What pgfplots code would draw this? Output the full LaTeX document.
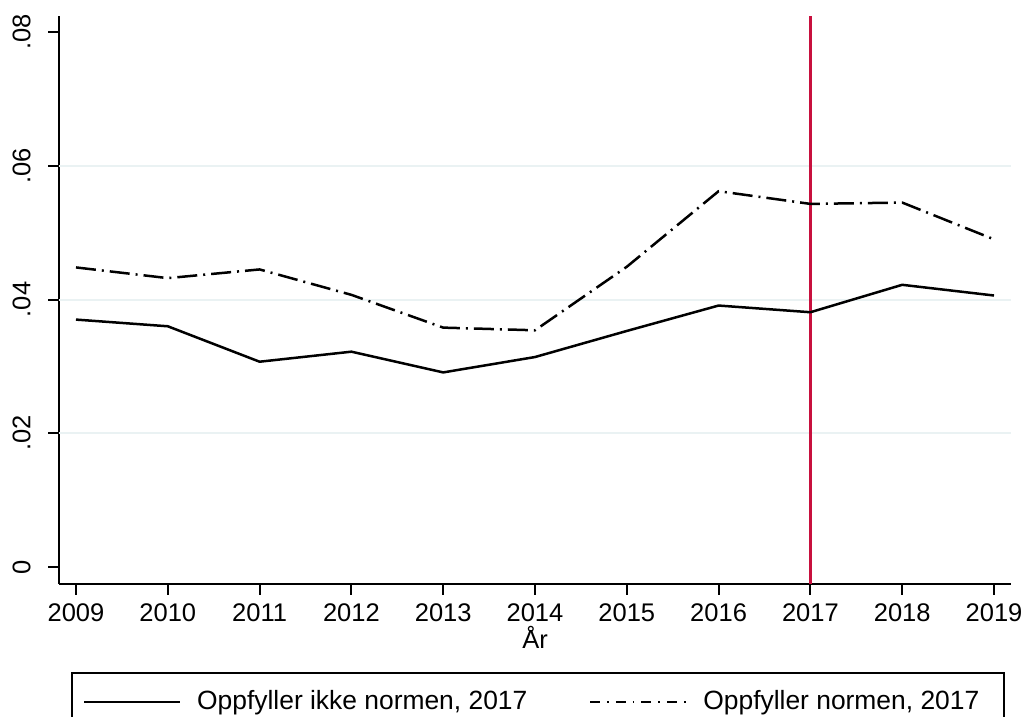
\documentclass[border=0pt]{standalone}
\usepackage{pgfplots}
\pgfplotsset{compat=1.18}
\usepackage{fontspec}
\setmainfont{Liberation Sans}
\definecolor{gridc}{RGB}{234,242,243}
\definecolor{vred}{RGB}{200,16,62}
\begin{document}
\fontsize{12.75}{15}\selectfont
\begin{tikzpicture}
\path[use as bounding box] (0,0) rectangle (512.5pt,358.5pt);
\begin{axis}[
  scale only axis,
  width=476pt, height=284pt,
  at={(29.5pt,66.5pt)}, anchor=south west,
  xmin=2008.815, xmax=2019.185,
  ymin=-0.00254, ymax=0.0824,
  scaled y ticks=false, scaled x ticks=false,
  axis x line*=bottom, axis y line*=left,
  axis line style={line width=1pt, -},
  every tick/.style={black, line width=1pt},
  tick align=outside, major tick length=5.5pt,
  xtick={2009,2010,2011,2012,2013,2014,2015,2016,2017,2018,2019},
  xticklabels={2009,2010,2011,2012,2013,2014,2015,2016,2017,2018,2019},
  ytick={0,0.02,0.04,0.06,0.08},
  yticklabels={0,.02,.04,.06,.08},
  extra y ticks={0.02,0.04,0.06},
  extra y tick labels={},
  extra y tick style={grid=major, major tick length=0pt},
  major grid style={gridc, line width=1pt},
  /pgf/number format/assume math mode=true,
  ticklabel style={font=\fontsize{12.75}{15}\selectfont},
  xticklabel style={anchor=north, inner sep=0pt, yshift=-4pt},
  yticklabel style={rotate=90, anchor=south, inner sep=0pt, yshift=8.5pt},
  xlabel={År},
  xlabel style={at={(axis description cs:0.5,0)}, anchor=base, yshift=-32.5pt, inner sep=0pt, font=\fontsize{12.75}{15}\selectfont},
  legend style={at={(0.0126,-0.1549)}, anchor=north west, draw=black, line width=1pt,
    inner xsep=5.5pt, inner ysep=8.5pt, font=\fontsize{13.2}{15}\selectfont,
    nodes={inner sep=0pt, text height=9.8pt, text depth=2.5pt},
    cells={anchor=west},
    legend columns=2,
    /tikz/every odd column/.append style={column sep=8pt}},
]
\addplot[vred, line width=1.5pt, forget plot] coordinates {(2017,-0.00254) (2017,0.0824)};
\addplot[black, line width=1.25pt, line join=round,
  legend image code/.code={\draw[black, line width=1.1pt] (0pt,0pt) -- (48pt,0pt);}]
coordinates {
(2009,0.0370) (2010,0.0360) (2011,0.0307) (2012,0.0322) (2013,0.0291) (2014,0.0314)
(2015,0.0353) (2016,0.0391) (2017,0.0381) (2018,0.0422) (2019,0.0406)
};
\addlegendentry{\makebox[196pt][l]{Oppfyller ikke normen, 2017}}
\addplot[black, line width=1.25pt, line join=round, dash pattern=on 10pt off 3pt on 1pt off 3pt,
  legend image code/.code={\draw[black, line width=1.1pt, dash pattern=on 5pt off 3.5pt on 0.8pt off 3.5pt] (0pt,0pt) -- (48pt,0pt);}]
coordinates {
(2009,0.0448) (2010,0.0432) (2011,0.0445) (2012,0.0407) (2013,0.0358) (2014,0.0354)
(2015,0.0449) (2016,0.0562) (2017,0.0543) (2018,0.0545) (2019,0.0490)
};
\addlegendentry{\makebox[145pt][l]{Oppfyller normen, 2017}}
\end{axis}
\end{tikzpicture}
\end{document}
